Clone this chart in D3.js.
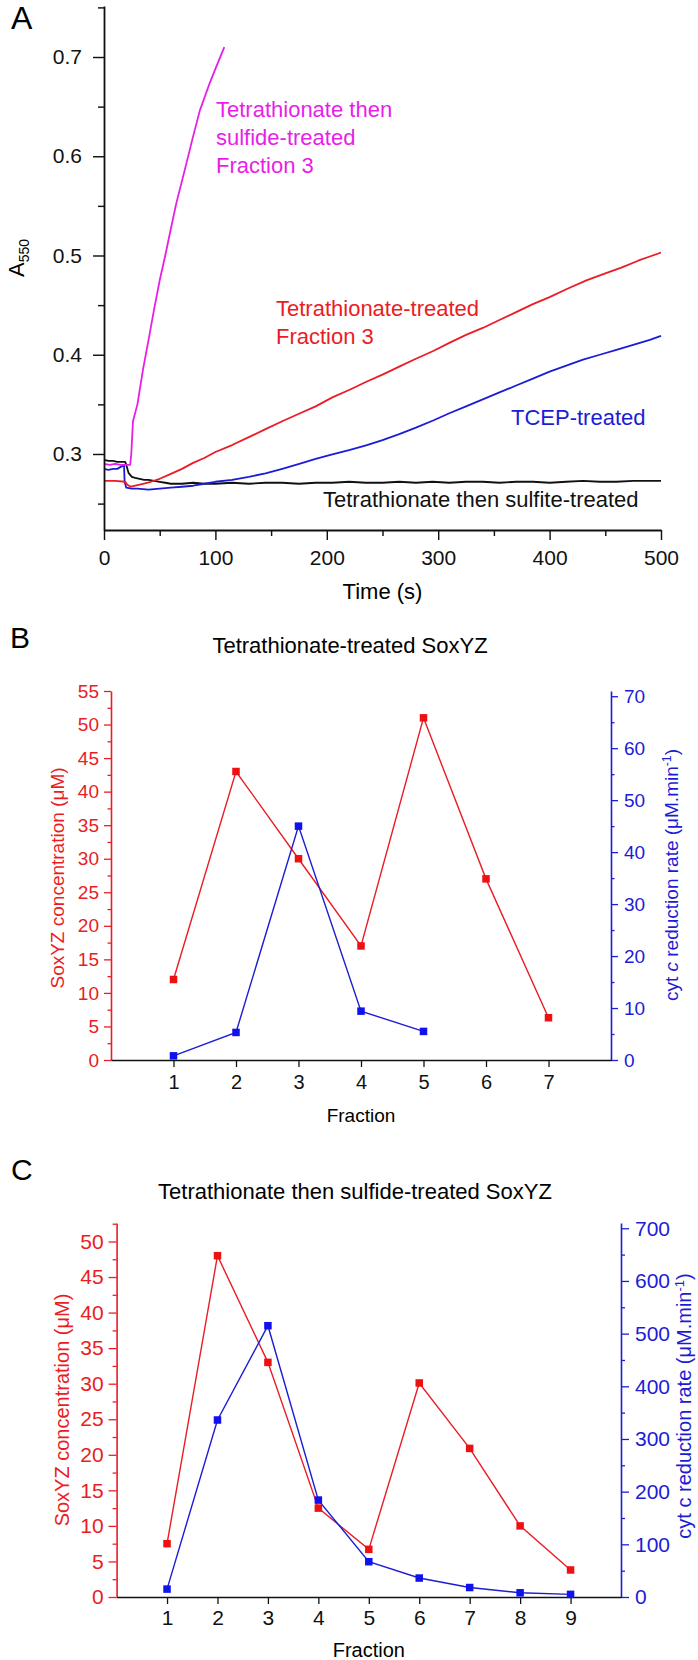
<!DOCTYPE html>
<html><head><meta charset="utf-8">
<script src="https://cdn.jsdelivr.net/npm/d3@7"></script>
<style>
html,body{margin:0;padding:0;background:#fff;}
svg{display:block;font-family:"Liberation Sans",Arial,sans-serif;}
</style></head>
<body>
<svg id="c" width="698" height="1660"></svg>
<script>
// ---------- Panel A data ----------
const magT = [0,5,10,15,20,23.5,24.5,26,30,35,40,45,50,55,60,65,72,80,86,95,100,108];
const magA = [.290,.289,.290,.289,.289,.289,.300,.333,.350,.385,.415,.446,.475,.500,.527,.553,.584,.620,.646,.674,.688,.710];
const redT = [0,10,19,21,24,28,35,42,50,60,70,80,90,100,115,130,145,160,176,190,205,221,236,250,265,280,296,310,325,340,355,370,385,400,415,433,450,465,480,490,500];
const redA = [.273,.273,.272,.269,.267,.268,.270,.272,.275,.280,.285,.291,.296,.302,.309,.317,.325,.333,.341,.348,.357,.365,.373,.380,.388,.396,.404,.412,.420,.427,.435,.443,.451,.458,.466,.475,.482,.488,.495,.499,.503];
const bluT = [0,4,8,12,15,17,18,18.5,20,25,30,40,50,60,70,80,90,100,115,130,145,160,176,190,205,220,236,250,265,280,296,310,325,340,355,370,385,400,415,430,445,460,475,490,500];
const bluA = [.285,.284,.285,.285,.287,.288,.288,.272,.266,.265,.265,.264,.265,.266,.267,.268,.270,.272,.274,.277,.2805,.285,.2902,.2950,.2995,.3040,.3090,.3140,.3200,.3265,.334,.341,.348,.355,.362,.369,.376,.383,.389,.395,.400,.405,.410,.415,.419];
const blkT = [0,4,8,12,16,19,20,22,25,28,32,36,40,45,50,55,60,70,80,90,100,115,130,145,160,175,190,205,220,235,250,265,280,295,310,325,340,355,370,385,400,415,430,445,460,475,490,500];
const blkA = [.294,.293,.293,.292,.292,.292,.289,.281,.277,.276,.275,.274,.274,.273,.272,.271,.270,.270,.271,.270,.270,.271,.270,.271,.271,.270,.271,.271,.272,.271,.271,.272,.271,.272,.271,.272,.272,.271,.272,.272,.271,.272,.273,.272,.272,.273,.273,.273];
const aXTicks = [0,100,200,300,400,500];
const aXMinor = [50,150,250,350,450];
const aYTicks = [0.3,0.4,0.5,0.6,0.7];
const aYMinor = [0.25,0.35,0.45,0.55,0.65,0.75];

// ---------- Panel B data ----------
const bFractions = [1,2,3,4,5,6,7];
const bConc = [12,43,30,17,51,27,6.3];
const bRateFractions = [1,2,3,4,5];
const bRate = [0.8,5.3,45,9.4,5.5];
const bLeftTicks = [0,5,10,15,20,25,30,35,40,45,50,55];
const bRightTicks = [0,10,20,30,40,50,60,70];

// ---------- Panel C data ----------
const cFractions = [1,2,3,4,5,6,7,8,9];
const cConc = [7.5,48,33,12.5,6.7,30.1,20.9,10,3.8];
const cRate = [15,336,515,184,67,36,18,8,5];
const cLeftTicks = [0,5,10,15,20,25,30,35,40,45,50];
const cRightTicks = [0,100,200,300,400,500,600,700];

const RED = "#ea1c24", BLUE = "#1c1cd6", MAG = "#e81ee8", BLK = "#111";
const svg = d3.select("#c");

function styleAxis(g, color, fs, sw) {
  g.selectAll("path.domain").attr("stroke", color).attr("stroke-width", sw);
  g.selectAll(".tick line").attr("stroke", color).attr("stroke-width", sw * 0.8);
  g.selectAll(".tick text").attr("fill", color).attr("font-size", fs)
    .attr("font-family", '"Liberation Sans",Arial,sans-serif');
}
function minorAxis(g, axisFn, scale, vals, size, color, sw) {
  const a = axisFn(scale).tickValues(vals).tickSize(size).tickFormat("").tickSizeOuter(0);
  g.call(a);
  g.select("path.domain").remove();
  g.selectAll(".tick line").attr("stroke", color).attr("stroke-width", sw * 0.8);
}

// ================= Panel A =================
const xA = d3.scaleLinear([0, 500], [104, 661]);
const yA = d3.scaleLinear([0.2234, 0.7514], [530, 6]);

svg.append("text").attr("x", 11).attr("y", 29).attr("font-size", 32).text("A");

const lineA = d3.line().x(d => xA(d[0])).y(d => yA(d[1]));
function drawCurve(T, V, color) {
  svg.append("path").datum(T.map((t, i) => [t, V[i]]))
    .attr("d", lineA).attr("fill", "none").attr("stroke", color)
    .attr("stroke-width", 1.8).attr("stroke-linejoin", "round");
}
drawCurve(blkT, blkA, BLK);
drawCurve(bluT, bluA, BLUE);
drawCurve(redT, redA, RED);
drawCurve(magT, magA, MAG);

{
  const gy = svg.append("g").attr("transform", "translate(104,0)");
  gy.call(d3.axisLeft(yA).tickValues(aYTicks).tickSize(11).tickPadding(11).tickSizeOuter(0).tickFormat(d3.format(".1f")));
  styleAxis(gy, BLK, 21, 1.8);
  minorAxis(svg.append("g").attr("transform", "translate(104,0)"), d3.axisLeft, yA, aYMinor, 6, BLK, 1.8);
  const gx = svg.append("g").attr("transform", "translate(0,530)");
  gx.call(d3.axisBottom(xA).tickValues(aXTicks).tickSize(10).tickPadding(10).tickSizeOuter(0));
  styleAxis(gx, BLK, 21, 1.8);
  minorAxis(svg.append("g").attr("transform", "translate(0,530)"), d3.axisBottom, xA, aXMinor, 6, BLK, 1.8);
}
svg.append("text").attr("x", (104 + 661) / 2).attr("y", 599).attr("text-anchor", "middle")
  .attr("font-size", 22).text("Time (s)");
{
  const t = svg.append("text").attr("transform", "translate(24,258) rotate(-90)")
    .attr("text-anchor", "middle").attr("font-size", 22);
  t.append("tspan").text("A");
  t.append("tspan").attr("font-size", 14).attr("dy", 5).text("550");
}
// curve labels
function multiText(lines, x, y0, lh, color) {
  const t = svg.append("text").attr("fill", color).attr("font-size", 22);
  lines.forEach((s, i) => t.append("tspan").attr("x", x).attr("y", y0 + i * lh).text(s));
}
multiText(["Tetrathionate then", "sulfide-treated", "Fraction 3"], 216, 117, 28, MAG);
multiText(["Tetrathionate-treated", "Fraction 3"], 276, 316, 27.5, RED);
multiText(["TCEP-treated"], 511, 425, 0, BLUE);
multiText(["Tetrathionate then sulfite-treated"], 323, 507, 0, BLK);

// ================= Panels B & C =================
function dualPanel(o) {
  const x = d3.scaleLinear(o.xDom, [o.x0, o.x1]);
  const yL = d3.scaleLinear(o.lDom, [o.yb, o.yt]);
  const yR = d3.scaleLinear(o.rDom, [o.yb, o.yt]);

  svg.append("text").attr("x", o.letterX).attr("y", o.letterY).attr("font-size", 30).text(o.letter);
  svg.append("text").attr("x", o.titleX).attr("y", o.titleY).attr("text-anchor", "middle")
    .attr("font-size", 22).text(o.title);

  // left axis
  const gl = svg.append("g").attr("transform", `translate(${o.x0},0)`);
  gl.call(d3.axisLeft(yL).tickValues(o.lTicks).tickSize(o.tl).tickPadding(o.lpad).tickSizeOuter(0));
  styleAxis(gl, RED, o.fs, 1.6);
  minorAxis(svg.append("g").attr("transform", `translate(${o.x0},0)`), d3.axisLeft, yL,
    o.lTicks.map(v => v + o.lTicks[1] / 2).filter(v => v <= o.lDom[1]), o.tl / 2, RED, 1.6);
  // right axis
  const gr = svg.append("g").attr("transform", `translate(${o.x1},0)`);
  gr.call(d3.axisRight(yR).tickValues(o.rTicks).tickSize(o.tl).tickPadding(o.rpad).tickSizeOuter(0));
  styleAxis(gr, BLUE, o.fs, 1.6);
  minorAxis(svg.append("g").attr("transform", `translate(${o.x1},0)`), d3.axisRight, yR,
    o.rTicks.map(v => v + o.rTicks[1] / 2).filter(v => v <= o.rDom[1]), o.tl / 2, BLUE, 1.6);
  // bottom axis
  const gb = svg.append("g").attr("transform", `translate(0,${o.yb})`);
  gb.call(d3.axisBottom(x).tickValues(o.xTicks).tickSize(7).tickPadding(o.bpad).tickSizeOuter(0));
  styleAxis(gb, BLK, o.fsx, 1.6);

  svg.append("text").attr("x", (o.x0 + o.x1) / 2).attr("y", o.fracY).attr("text-anchor", "middle")
    .attr("font-size", o.fsx - 1).text("Fraction");

  // axis titles
  svg.append("text").attr("transform", `translate(${o.lLabX},${o.lLabY}) rotate(-90)`)
    .attr("text-anchor", "middle").attr("fill", RED).attr("font-size", o.labFs)
    .text("SoxYZ concentration (\u03bcM)");
  const rt = svg.append("text").attr("transform", `translate(${o.rLabX},${o.rLabY}) rotate(-90)`)
    .attr("text-anchor", "middle").attr("fill", BLUE).attr("font-size", o.labFs);
  rt.append("tspan").text("cyt ");
  rt.append("tspan").attr("font-style", o.italicC ? "italic" : "normal").text("c");
  rt.append("tspan").text(" reduction rate (\u03bcM.min");
  rt.append("tspan").attr("font-size", o.labFs * 0.65).attr("dy", -7).text("-1");
  rt.append("tspan").attr("dy", 7).text(")");

  // series
  const lineL = d3.line().x(d => x(d[0])).y(d => yL(d[1]));
  const lineR = d3.line().x(d => x(d[0])).y(d => yR(d[1]));
  const redData = o.concF.map((f, i) => [f, o.conc[i]]);
  const bluData = o.rateF.map((f, i) => [f, o.rate[i]]);
  svg.append("path").datum(redData).attr("d", lineL).attr("fill", "none").attr("stroke", RED).attr("stroke-width", 1.4);
  svg.append("path").datum(bluData).attr("d", lineR).attr("fill", "none").attr("stroke", BLUE).attr("stroke-width", 1.4);
  const s = 7.5;
  svg.append("g").selectAll("rect").data(redData).join("rect")
    .attr("x", d => x(d[0]) - s / 2).attr("y", d => yL(d[1]) - s / 2).attr("width", s).attr("height", s).attr("fill", "#ee1111");
  svg.append("g").selectAll("rect").data(bluData).join("rect")
    .attr("x", d => x(d[0]) - s / 2).attr("y", d => yR(d[1]) - s / 2).attr("width", s).attr("height", s).attr("fill", "#1111ee");
}

dualPanel({
  letter: "B", letterX: 10, letterY: 648, title: "Tetrathionate-treated SoxYZ", titleX: 350, titleY: 653,
  xDom: [0, 8], x0: 111, x1: 611, yb: 1060, yt: 691, lDom: [0, 55], rDom: [0, 71],
  lTicks: bLeftTicks, rTicks: bRightTicks, xTicks: bFractions,
  tl: 7, lpad: 5, rpad: 6, bpad: 8, fs: 19, fsx: 20, fracY: 1122, labFs: 19,
  lLabX: 64, lLabY: 878, rLabX: 678, rLabY: 875, italicC: true,
  concF: bFractions, conc: bConc, rateF: bRateFractions, rate: bRate
});
dualPanel({
  letter: "C", letterX: 11, letterY: 1180, title: "Tetrathionate then sulfide-treated SoxYZ", titleX: 355, titleY: 1199,
  xDom: [0, 10], x0: 116.6, x1: 621, yb: 1597, yt: 1223, lDom: [0, 52.6], rDom: [0, 710],
  lTicks: cLeftTicks, rTicks: cRightTicks, xTicks: cFractions,
  tl: 8, lpad: 5, rpad: 6, bpad: 6, fs: 21, fsx: 21, fracY: 1657, labFs: 20,
  lLabX: 69, lLabY: 1410, rLabX: 691, rLabY: 1406, italicC: false,
  concF: cFractions, conc: cConc, rateF: cFractions, rate: cRate
});
</script>
</body></html>
